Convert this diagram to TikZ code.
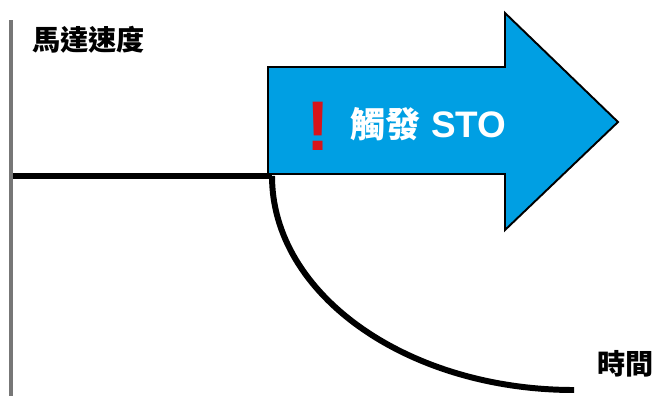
\documentclass[tikz,border=0pt]{standalone}
\usepackage{fontspec}
\setmainfont{Noto Sans CJK TC}
\newfontfamily\latinfont{Liberation Sans}
\usetikzlibrary{arrows}
\definecolor{stoblue}{HTML}{009FE3}
\definecolor{stored}{HTML}{D7141A}
\definecolor{axisgray}{HTML}{777777}
\tikzset{
  lbl/.style = {align=center, inner sep=0pt, text centered},
  axis_l/.style = {draw=axisgray, line width=2.2pt},
  speed_l/.style = {draw=black, line width=3.4pt},
  arr_b/.style = {fill=stoblue, draw=black, line width=1.1pt, line join=miter},
  ax_t/.style = {lbl, black, anchor=west, font=\fontsize{16}{16}\selectfont\bfseries},
}

\begin{document}
\begin{tikzpicture}[x=0.02cm, y=-0.02cm]
  \useasboundingbox (0,0) rectangle (658,396);
  % axis
  \coordinate (ax_top) at (11,20);
  \coordinate (ax_bot) at (11,396);
  \draw [axis_l] (ax_top) -- (ax_bot);
  \node [ax_t] (speed) at (32,40) {馬達速度};
  \node [ax_t] (time) at (597,364) {時間};
  % STO arrow
  \draw [arr_b] (268,67) -- (505,67) -- (505,13) -- (618,122)
    -- (505,230) -- (505,174) -- (268,174) -- cycle;
  \node [lbl, text=stored, font=\fontsize{40}{40}\selectfont\latinfont\bfseries]
    (excl) at (318,126) {!};
  \node [lbl, white, anchor=west, font=\fontsize{20}{20}\selectfont\bfseries]
    (sto) at (350,124) {觸發\hspace{0.3em}{\fontsize{21}{21}\selectfont\latinfont STO}};
  % speed
  \coordinate (run_a) at (13,176);
  \coordinate (run_b) at (272,176);
  \coordinate (stop) at (574,390);
  \draw [speed_l] (run_a) -- (run_b);
  \draw [speed_l] (run_b) .. controls (272,295) and (408,390) .. (stop);
\end{tikzpicture}
\end{document}
